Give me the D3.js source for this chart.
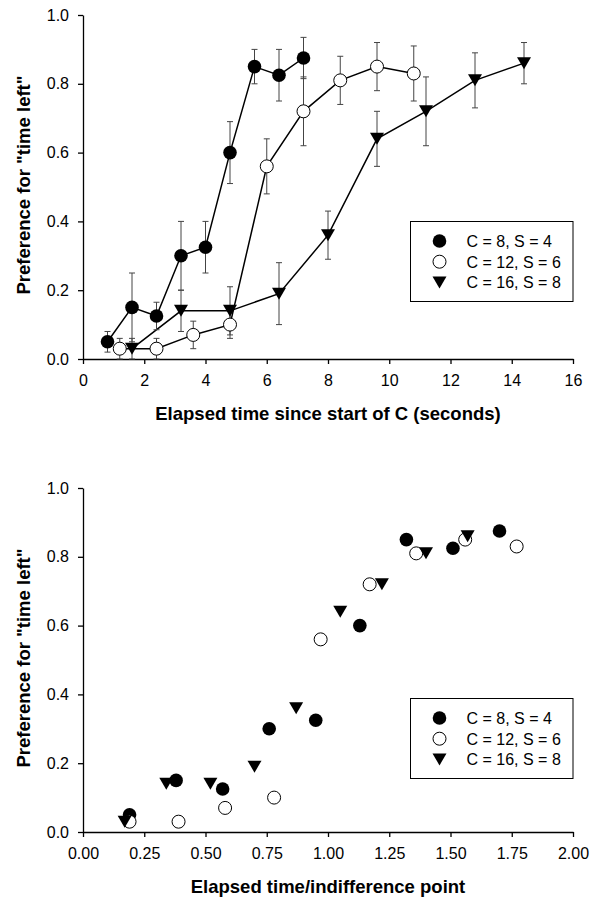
<!DOCTYPE html>
<html>
<head>
<meta charset="utf-8">
<script src="https://cdn.jsdelivr.net/npm/d3@7"></script>
<style>
  body { margin: 0; background: #fff; }
  svg text { font-family: Arial, "Liberation Sans", Helvetica, sans-serif; fill: #000; }
</style>
</head>
<body>
<div id="chart"></div>
<script>
// legend / series labels
const seriesLabels = ["C = 8, S = 4", "C = 12, S = 6", "C = 16, S = 8"];

// top panel: elapsed time (s), preference, error (+/-)
const topX8 = [0.8, 1.6, 2.4, 3.2, 4.0, 4.8, 5.6, 6.4, 7.2];
const topY8 = [0.05, 0.15, 0.125, 0.30, 0.325, 0.60, 0.85, 0.825, 0.875];
const topE8 = [0.03, 0.10, 0.04, 0.10, 0.075, 0.09, 0.05, 0.075, 0.06];

const topX12 = [1.2, 2.4, 3.6, 4.8, 6.0, 7.2, 8.4, 9.6, 10.8];
const topY12 = [0.03, 0.03, 0.07, 0.10, 0.56, 0.72, 0.81, 0.85, 0.83];
const topE12 = [0.03, 0.03, 0.04, 0.04, 0.08, 0.10, 0.07, 0.07, 0.08];

const topX16 = [1.6, 3.2, 4.8, 6.4, 8.0, 9.6, 11.2, 12.8, 14.4];
const topY16 = [0.03, 0.14, 0.14, 0.19, 0.36, 0.64, 0.72, 0.81, 0.86];
const topE16 = [0.03, 0.06, 0.07, 0.09, 0.07, 0.08, 0.10, 0.08, 0.06];

// bottom panel: elapsed time / indifference point, preference
const botX8 = [0.19, 0.38, 0.57, 0.76, 0.95, 1.13, 1.32, 1.51, 1.70];
const botY8 = [0.05, 0.15, 0.125, 0.30, 0.325, 0.60, 0.85, 0.825, 0.875];

const botX12 = [0.19, 0.39, 0.58, 0.78, 0.97, 1.17, 1.36, 1.56, 1.77];
const botY12 = [0.03, 0.03, 0.07, 0.10, 0.56, 0.72, 0.81, 0.85, 0.83];

const botX16 = [0.17, 0.34, 0.52, 0.70, 0.87, 1.05, 1.22, 1.40, 1.57];
const botY16 = [0.03, 0.14, 0.14, 0.19, 0.36, 0.64, 0.72, 0.81, 0.86];

// tick values
const yTicks = [0, 0.2, 0.4, 0.6, 0.8, 1.0];
const topXTicks = [0, 2, 4, 6, 8, 10, 12, 14, 16];
const botXTicks = [0, 0.25, 0.5, 0.75, 1.0, 1.25, 1.5, 1.75, 2.0];

const width = 594, height = 897;
const svg = d3.select("#chart").append("svg")
  .attr("width", width)
  .attr("height", height);

const markers = ["filled", "open", "triangle"];
const triPath = "M-7,-6L7,-6L0,6Z";

function drawMarker(sel, kind) {
  if (kind === "triangle") {
    sel.append("path").attr("d", triPath).attr("fill", "#000");
  } else {
    sel.append("circle")
      .attr("r", kind === "filled" ? 6.8 : 6.5)
      .attr("fill", kind === "filled" ? "#000" : "#fff")
      .attr("stroke", "#000")
      .attr("stroke-width", kind === "filled" ? 0 : 1);
  }
}

function panel({ top, bottom, xDomain, xTicks, xFormat, xTitle, series, lines, legendY }) {
  const left = 83, right = 573;
  const x = d3.scaleLinear().domain(xDomain).range([left, right]);
  const y = d3.scaleLinear().domain([0, 1]).range([bottom, top]);
  const g = svg.append("g");

  const xAxis = g.append("g")
    .attr("transform", "translate(0," + bottom + ")")
    .call(d3.axisBottom(x).tickValues(xTicks).tickFormat(xFormat).tickSize(5).tickPadding(11).tickSizeOuter(0));
  const yAxis = g.append("g")
    .attr("transform", "translate(" + left + ",0)")
    .call(d3.axisLeft(y).tickValues(yTicks).tickFormat(d3.format(".1f")).tickSize(5).tickPadding(9).tickSizeOuter(0));
  [xAxis, yAxis].forEach(a => {
    a.selectAll("text").style("font-size", "16px").attr("fill", "#000");
    a.selectAll("line, path").attr("stroke", "#000").attr("stroke-width", 1.3);
  });

  g.append("text")
    .attr("x", (left + right) / 2)
    .attr("y", bottom + 61)
    .attr("text-anchor", "middle")
    .style("font-size", "18.5px")
    .style("font-weight", "bold")
    .text(xTitle);

  g.append("text")
    .attr("transform", "translate(30," + ((top + bottom) / 2 - 2) + ") rotate(-90)")
    .attr("text-anchor", "middle")
    .style("font-size", "18.5px")
    .style("font-weight", "bold")
    .text('Preference for "time left"');

  const line = d3.line().x(d => x(d.x)).y(d => y(d.y));

  series.forEach(s => {
    const pts = s.xs.map((v, i) => ({ x: v, y: s.ys[i], e: s.es ? s.es[i] : 0 }));
    s.pts = pts;
    if (lines) {
      g.append("path")
        .datum(pts)
        .attr("fill", "none")
        .attr("stroke", "#000")
        .attr("stroke-width", 1.5)
        .attr("d", line);
    }
  });

  if (lines) {
    series.forEach(s => {
      const eb = g.append("g").selectAll("g").data(s.pts).join("g");
      eb.append("line")
        .attr("x1", d => x(d.x)).attr("x2", d => x(d.x))
        .attr("y1", d => y(d.y - d.e)).attr("y2", d => y(d.y + d.e))
        .attr("stroke", "#444").attr("stroke-width", 1);
      [-1, 1].forEach(sgn => {
        eb.append("line")
          .attr("x1", d => x(d.x) - 3).attr("x2", d => x(d.x) + 3)
          .attr("y1", d => y(d.y + sgn * d.e)).attr("y2", d => y(d.y + sgn * d.e))
          .attr("stroke", "#444").attr("stroke-width", 1);
      });
    });
  }

  series.forEach((s, k) => {
    const m = g.append("g").selectAll("g").data(s.pts).join("g")
      .attr("transform", d => "translate(" + x(d.x) + "," + y(d.y) + ")");
    drawMarker(m, markers[k]);
  });

  // legend
  const lg = g.append("g");
  lg.append("rect")
    .attr("x", 410.5).attr("y", legendY)
    .attr("width", right - 410.5).attr("height", 80)
    .attr("fill", "#fff").attr("stroke", "#000").attr("stroke-width", 1);
  seriesLabels.forEach((lab, k) => {
    const rowY = legendY + 19.5 + k * 20.7;
    const m = lg.append("g").attr("transform", "translate(439.5," + rowY + ")");
    drawMarker(m, markers[k]);
    lg.append("text")
      .attr("x", 466.5).attr("y", rowY + 6)
      .style("font-size", "16px")
      .text(lab);
  });
}

panel({
  top: 15, bottom: 359,
  xDomain: [0, 16], xTicks: topXTicks, xFormat: d3.format("d"),
  xTitle: "Elapsed time since start of C (seconds)",
  series: [
    { xs: topX8, ys: topY8, es: topE8 },
    { xs: topX12, ys: topY12, es: topE12 },
    { xs: topX16, ys: topY16, es: topE16 }
  ],
  lines: true,
  legendY: 221.5
});

panel({
  top: 488, bottom: 832,
  xDomain: [0, 2], xTicks: botXTicks, xFormat: d3.format(".2f"),
  xTitle: "Elapsed time/indifference point",
  series: [
    { xs: botX8, ys: botY8 },
    { xs: botX12, ys: botY12 },
    { xs: botX16, ys: botY16 }
  ],
  lines: false,
  legendY: 698.5
});
</script>
</body>
</html>
